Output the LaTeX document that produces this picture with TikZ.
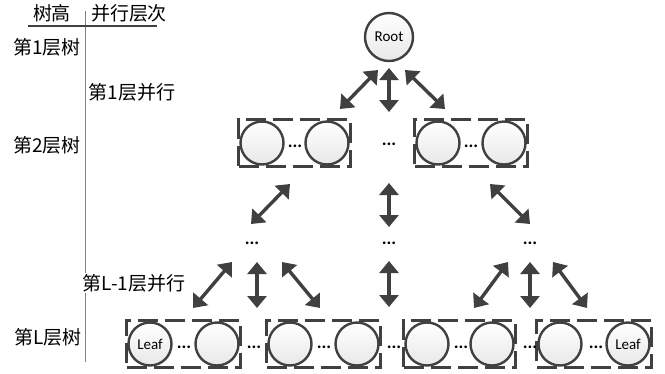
\documentclass[tikz,border=0pt]{standalone}
\usepackage{fontspec}
\setmainfont{Carlito}
\newfontfamily\cjk{Noto Sans CJK SC}
\usetikzlibrary{arrows.meta,fit}
\definecolor{cdark}{HTML}{404040}
\definecolor{cline}{HTML}{808080}
\tikzset{
 circ/.style={circle, draw=cdark, line width=2.4pt, minimum size=43pt, inner sep=0pt,
   top color=white, bottom color=black!9, font=\fontsize{15}{17}\selectfont},
 grp/.style={draw=cdark, line width=2.8pt, dash pattern=on 20pt off 7pt, rectangle,
   inner xsep=0.5pt, inner ysep=1pt},
 arr/.style={draw=cdark, line width=3.4pt, {Triangle[length=12pt,width=19pt]}-{Triangle[length=12pt,width=19pt]}},
 dots/.style={font=\bfseries\fontsize{18}{18}\selectfont, inner sep=0pt},
 lab/.style={font=\cjk\fontsize{19}{22}\selectfont, inner sep=1pt},
}
\begin{document}
\begin{tikzpicture}[x=1pt,y=-1pt]
\useasboundingbox (0,0) rectangle (665,373);
% separator lines
\draw[cline, line width=1pt] (85,11) -- (85,362);
\draw[cdark, line width=2.2pt] (28,26) -- (157,26);
% labels
\node[lab] (h1) at (52,13) {树高};
\node[lab] (h2) at (129,13) {并行层次};
\node[lab] (l1) at (47,47) {第1层树};
\node[lab] (p1) at (132,92) {第1层并行};
\node[lab] (l2) at (47,145) {第2层树};
\node[lab, fill=white] (p2) at (134,283) {第L-1层并行};
\node[lab] (l3) at (48,337) {第L层树};
% root
\node[circ, minimum size=48pt] (root) at (389,37) {Root};
% level 2
\node[circ] (a1) at (262,143) {};
\node[circ] (a2) at (327,143) {};
\node[dots] (ad) at (295,146) {...};
\node[grp, fit=(a1)(a2)] (ga) {};
\node[dots] (md) at (389,144) {...};
\node[circ] (b1) at (438,143) {};
\node[circ] (b2) at (504,143) {};
\node[dots] (bd) at (471,146) {...};
\node[grp, fit=(b1)(b2)] (gb) {};
% dots level
\node[dots] (ld) at (252,243) {...};
\node[dots] (cd) at (389,243) {...};
\node[dots] (rd) at (530,243) {...};
% bottom level
\node[circ] (c1) at (150,344) {Leaf};
\node[circ] (c2) at (217,344) {};
\node[circ] (c3) at (290,344) {};
\node[circ] (c4) at (357,344) {};
\node[circ] (c5) at (427,344) {};
\node[circ] (c6) at (492,344) {};
\node[circ] (c7) at (560,344) {};
\node[circ] (c8) at (628,344) {Leaf};
\node[grp, fit=(c1)(c2)] (g1) {};
\node[grp, fit=(c3)(c4)] (g2) {};
\node[grp, fit=(c5)(c6)] (g3) {};
\node[grp, fit=(c7)(c8)] (g4) {};
\node[dots] (d1) at (184,347) {...};
\node[dots] (d2) at (254,347) {...};
\node[dots] (d3) at (324,347) {...};
\node[dots] (d4) at (394,347) {...};
\node[dots] (d5) at (461,347) {...};
\node[dots] (d6) at (530,347) {...};
\node[dots] (d7) at (596,347) {...};
% arrow end points
\coordinate (r1a) at (378,70);  \coordinate (r1b) at (340,109);
\coordinate (r2a) at (389,68);  \coordinate (r2b) at (389,112);
\coordinate (r3a) at (405,70);  \coordinate (r3b) at (445,109);
\coordinate (s1a) at (290,184); \coordinate (s1b) at (251,224);
\coordinate (s2a) at (389,183); \coordinate (s2b) at (389,227);
\coordinate (s3a) at (490,184); \coordinate (s3b) at (530,224);
\coordinate (t1a) at (232,262); \coordinate (t1b) at (193,308);
\coordinate (t2a) at (257,262); \coordinate (t2b) at (257,308);
\coordinate (t3a) at (282,262); \coordinate (t3b) at (320,308);
\coordinate (t4a) at (389,261); \coordinate (t4b) at (389,307);
\coordinate (t5a) at (508,262); \coordinate (t5b) at (474,308);
\coordinate (t6a) at (530,262); \coordinate (t6b) at (530,308);
\coordinate (t7a) at (553,262); \coordinate (t7b) at (587,308);
\foreach \p in {r1,r2,r3,s1,s2,s3,t1,t2,t3,t4,t5,t6,t7}
  \draw[arr] (\p a) -- (\p b);
\end{tikzpicture}
\end{document}
